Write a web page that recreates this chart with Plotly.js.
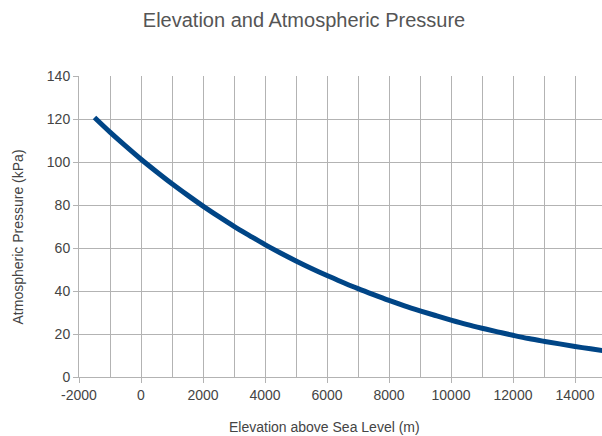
<!DOCTYPE html>
<html>
<head>
<meta charset="utf-8">
<script src="https://cdn.plot.ly/plotly-3.0.1.min.js"></script>
<style>html,body{margin:0;padding:0;background:#fff;}#chart{width:602px;height:436px;}</style>
</head>
<body>
<div id="chart"></div>
<script>
var elevation = [-1500,-1000,-500,0,500,1000,1500,2000,2500,3000,3500,4000,4500,5000,5500,6000,6500,7000,7500,8000,8500,9000,9500,10000,10500,11000,11500,12000,12500,13000,13500,14000,14500,15000];
var pressure = [120.7,113.9,107.5,101.3,95.5,89.9,84.6,79.5,74.7,70.1,65.8,61.6,57.7,54.0,50.5,47.2,44.1,41.1,38.3,35.6,33.1,30.8,28.6,26.5,24.5,22.7,21.0,19.4,17.9,16.6,15.4,14.2,13.1,12.1];
var xTicks = [-2000,0,2000,4000,6000,8000,10000,12000,14000];
var yTicks = [0,20,40,60,80,100,120,140];
var chartTitle = 'Elevation and Atmospheric Pressure';
var xTitle = 'Elevation above Sea Level (m)';
var yTitle = 'Atmospheric Pressure (kPa)';

var gridColor = '#b3b3b3';
var fontFam = '"Liberation Sans", Arial, sans-serif';

Plotly.newPlot('chart', [{
  x: elevation, y: pressure, type: 'scatter', mode: 'lines',
  line: {color: '#004586', width: 5, shape: 'spline'},
  hoverinfo: 'skip'
}], {
  width: 602, height: 436,
  margin: {l: 79, r: 0, t: 76, b: 59},
  paper_bgcolor: '#fff', plot_bgcolor: '#fff',
  showlegend: false,
  font: {family: fontFam, color: '#444', size: 14},
  title: {text: chartTitle, x: 0.505, xanchor: 'center', y: 0.955, yanchor: 'middle',
          font: {family: fontFam, size: 20, color: '#555'}},
  xaxis: {
    range: [-2000, 14870], tickvals: xTicks, ticktext: xTicks.map(String),
    showgrid: true, gridcolor: gridColor, gridwidth: 1,
    minor: {dtick: 1000, tick0: 0, showgrid: true, gridcolor: gridColor, gridwidth: 1},
    ticks: 'outside', ticklen: 5, tickcolor: gridColor,
    zeroline: false, showline: true, linecolor: gridColor,
    tickfont: {size: 14, color: '#444'}
  },
  yaxis: {
    range: [0, 140], tickvals: yTicks, ticktext: yTicks.map(String),
    showgrid: true, gridcolor: gridColor, gridwidth: 1,
    ticks: 'outside', ticklen: 5, tickcolor: gridColor,
    zeroline: false, showline: true, linecolor: gridColor,
    tickfont: {size: 14, color: '#444'}
  },
  annotations: [
    {text: xTitle, xref: 'paper', yref: 'paper', x: 0.4685, y: -0.166, xanchor: 'center', yanchor: 'middle',
     showarrow: false, font: {size: 14, color: '#444'}},
    {text: yTitle, xref: 'paper', yref: 'paper', x: -0.1166, y: 0.4635, xanchor: 'center', yanchor: 'middle',
     textangle: -90, showarrow: false, font: {size: 14, color: '#444'}}
  ]
}, {displayModeBar: false, staticPlot: true});
</script>
</body>
</html>
